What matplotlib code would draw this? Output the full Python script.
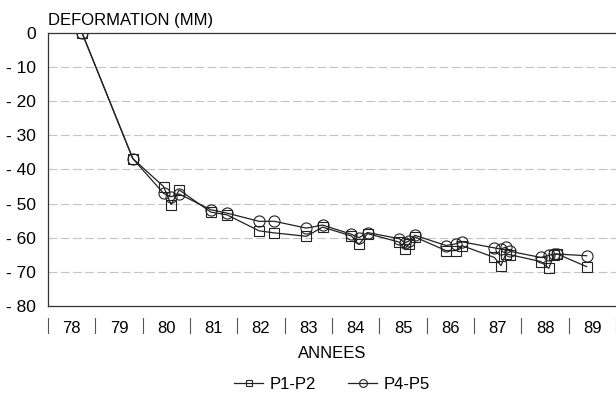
import numpy as np
import matplotlib
matplotlib.use("Agg")
import matplotlib.pyplot as plt

plt.rcParams['font.family'] = ['Liberation Sans', 'DejaVu Sans']

# measurement dates (decimal years, 78 = 1978)
dates = [78.72, 79.79, 80.44, 80.60, 80.77, 81.44, 81.78, 82.46, 82.78, 83.46,
         83.80, 84.41, 84.57, 84.75, 85.42, 85.54, 85.62, 85.75, 86.41, 86.62,
         86.74, 87.43, 87.57, 87.67, 87.76, 88.41, 88.58, 88.69, 88.76, 89.38]

p1_p2 = [0, -36.8, -45.0, -50.3, -46.0, -52.5, -53.3, -58.0, -58.6, -59.6,
         -56.9, -59.5, -62.0, -58.8, -61.3, -63.2, -62.0, -59.8, -63.8, -63.8,
         -62.3, -65.8, -68.2, -64.8, -65.0, -67.0, -69.0, -65.0, -64.8, -68.5]

p4_p5 = [0, -36.8, -47.0, -48.0, -47.2, -51.8, -52.8, -55.2, -55.2, -57.2,
         -56.3, -59.0, -60.0, -58.5, -60.3, -61.5, -61.0, -59.3, -62.3, -61.8,
         -61.2, -63.0, -63.3, -62.8, -64.0, -65.8, -65.2, -64.8, -64.8, -65.3]

years = list(range(78, 90))
year_labels = [str(y) for y in years]
y_ticks = [0, -10, -20, -30, -40, -50, -60, -70, -80]
y_labels = ['0', '- 10', '- 20', '- 30', '- 40', '- 50', '- 60', '- 70', '- 80']

fig = plt.figure(figsize=(6.16, 4.03), dpi=100)
ax = fig.add_axes([0.078, 0.241, 0.922, 0.677])

ax.plot(dates, p1_p2, color='#222222', lw=0.9, marker='s', ms=7,
        mfc='none', mec='#222222', mew=0.8, label='P1-P2')
ax.plot(dates, p4_p5, color='#222222', lw=0.9, marker='o', ms=8,
        mfc='none', mec='#222222', mew=0.8, label='P4-P5')

ax.set_xlim(78, 90)
ax.set_ylim(-80, 0)

# y axis
ax.set_yticks(y_ticks)
ax.set_yticklabels(y_labels, fontsize=12.5)
ax.tick_params(axis='y', length=0, pad=9)
for v in y_ticks[1:-1]:
    ax.axhline(v, color='#c4c4c4', lw=0.8, ls=(0, (8, 3)), zorder=0)

# x axis: labels centred in each year, separators between years
ax.set_xticks([y + 0.5 for y in years])
ax.set_xticklabels(year_labels, fontsize=12)
ax.tick_params(axis='x', length=0, pad=11)
trans = ax.get_xaxis_transform()
for y in years + [90]:
    ax.plot([y, y], [-0.045, -0.1], transform=trans, color='#555555',
            lw=0.8, clip_on=False)

ax.spines['right'].set_visible(False)
for s in ['left', 'bottom', 'top']:
    ax.spines[s].set_color('#333333')
    ax.spines[s].set_linewidth(0.9)

ax.set_xlabel('ANNEES', fontsize=12, labelpad=7)
ax.text(0.0, 1.02, 'DEFORMATION (MM)', transform=ax.transAxes,
        fontsize=12, ha='left', va='bottom')

ax.legend(loc='upper center', bbox_to_anchor=(0.5, -0.205), ncol=2,
          frameon=False, fontsize=12, handlelength=1.75, handletextpad=0.4,
          columnspacing=1.9, markerscale=0.7)

plt.savefig('out.png', dpi=100)
